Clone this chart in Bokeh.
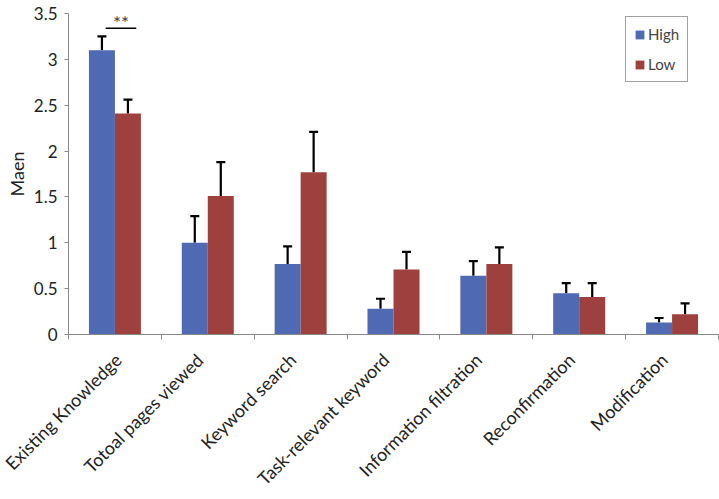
import math
from bokeh.plotting import figure
from bokeh.models import (ColumnDataSource, FixedTicker, Whisker, TeeHead,
                          Legend, LegendItem, Range1d, Label)
from bokeh.embed import file_html
from bokeh.resources import INLINE

categories = ["Existing Knowledge", "Totoal pages viewed", "Keyword search",
              "Task-relevant keyword", "Information filtration",
              "Reconfirmation", "Modification"]
high_mean = [3.10, 1.00, 0.77, 0.28, 0.64, 0.45, 0.13]
high_err = [0.15, 0.29, 0.19, 0.11, 0.16, 0.11, 0.05]
low_mean = [2.41, 1.51, 1.77, 0.71, 0.77, 0.41, 0.22]
low_err = [0.15, 0.37, 0.44, 0.19, 0.18, 0.15, 0.12]
y_ticks = [0, 0.5, 1, 1.5, 2, 2.5, 3, 3.5]

BLUE = "#4F69B3"
RED = "#9E403E"
FONT = "Lato"
OFFSET = 0.14
BAR_W = 0.28
LABEL_SHIFT = 0.085  # nudges the slanted labels so their ends sit under the bars

centers = [i + 0.5 for i in range(len(categories))]
label_pos = [c - LABEL_SHIFT for c in centers]
high_src = ColumnDataSource(dict(
    x=[c - OFFSET for c in centers], top=high_mean,
    upper=[m + e for m, e in zip(high_mean, high_err)]))
low_src = ColumnDataSource(dict(
    x=[c + OFFSET for c in centers], top=low_mean,
    upper=[m + e for m, e in zip(low_mean, low_err)]))

p = figure(width=719, height=499, output_backend="svg", toolbar_location=None,
           x_range=Range1d(0, len(categories)), y_range=Range1d(0, 3.5),
           min_border_left=68, min_border_right=1, min_border_top=13,
           min_border_bottom=164)
p.outline_line_color = None
p.grid.visible = False
p.background_fill_color = "white"

hb = p.vbar(x="x", top="top", width=BAR_W, source=high_src,
            fill_color=BLUE, line_color=None)
lb = p.vbar(x="x", top="top", width=BAR_W, source=low_src,
            fill_color=RED, line_color=None)

for src in (high_src, low_src):
    w = Whisker(base="x", lower="top", upper="upper", source=src,
                dimension="height", line_color="black", line_width=2.2,
                lower_head=None,
                upper_head=TeeHead(size=9, line_color="black", line_width=2.2))
    p.add_layout(w)

# significance marker over the first pair
sig_x0, sig_x1, sig_y = 0.40, 0.73, 3.34
p.segment(x0=[sig_x0], y0=[sig_y], x1=[sig_x1], y1=[sig_y],
          line_color="black", line_width=1.5)
p.add_layout(Label(x=(sig_x0 + sig_x1) / 2, y=sig_y, text="**",
                   text_align="center", text_baseline="bottom",
                   text_font=FONT, text_font_size="19px", y_offset=-6))

# x axis: slanted labels under the categories, ticks at category boundaries
xa = p.xaxis[0]
xa.ticker = FixedTicker(ticks=label_pos,
                        minor_ticks=list(range(len(categories) + 1)))
xa.major_label_overrides = {c: n for c, n in zip(label_pos, categories)}
xa.major_tick_out = 0
xa.major_tick_in = 0
xa.minor_tick_out = 5
xa.minor_tick_in = 0
xa.minor_tick_line_color = "#888888"
xa.axis_line_color = "#888888"
xa.major_label_orientation = math.radians(45)
xa.major_label_text_font = FONT
xa.major_label_text_font_size = "18px"
xa.major_label_text_color = "#222222"
xa.major_label_standoff = 17

ya = p.yaxis[0]
ya.ticker = FixedTicker(ticks=y_ticks, minor_ticks=[])
ya.axis_line_color = "#888888"
ya.major_tick_line_color = "#888888"
ya.major_tick_out = 4
ya.major_tick_in = 0
ya.major_label_text_font = FONT
ya.major_label_text_font_size = "17px"
ya.major_label_text_color = "#222222"
ya.major_label_standoff = 7
ya.axis_label = "Maen"
ya.axis_label_text_font = FONT
ya.axis_label_text_font_style = "normal"
ya.axis_label_text_font_size = "18px"
ya.axis_label_text_color = "#222222"
ya.axis_label_standoff = 3

legend = Legend(items=[LegendItem(label="High", renderers=[hb]),
                       LegendItem(label="Low", renderers=[lb])],
                location=(557, 252), border_line_color="#444444",
                border_line_width=1.2, label_text_font=FONT,
                label_text_font_size="15px", glyph_width=11, glyph_height=11,
                spacing=12, padding=8, margin=0, label_standoff=3,
                background_fill_alpha=1)
p.add_layout(legend)

open("out.html", "w").write(file_html(p, INLINE))
